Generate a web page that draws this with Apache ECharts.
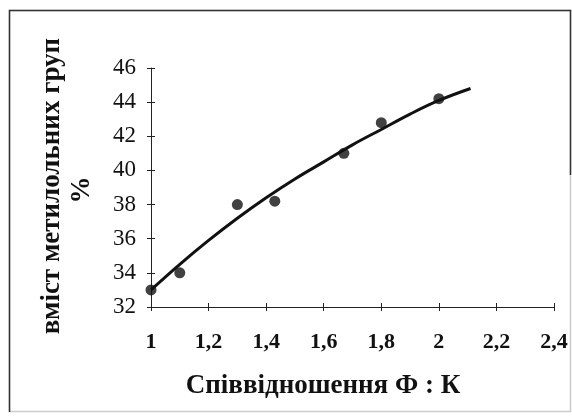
<!DOCTYPE html>
<html><head><meta charset="utf-8">
<script src="https://cdn.jsdelivr.net/npm/echarts@6/dist/echarts.min.js"></script>
<style>html,body{margin:0;padding:0;background:#fff}#c{width:572px;height:416px}</style>
</head><body><div id="c"></div>
<script>
// measured points (ratio Ф:К, content %)
const pointX = [1.0, 1.1, 1.3, 1.43, 1.67, 1.8, 2.0];
const pointY = [33.0, 34.0, 38.0, 38.2, 41.0, 42.8, 44.2];
// trend line
const trendX = [1.0, 1.1, 1.2, 1.3, 1.4, 1.5, 1.6, 1.7, 1.8, 1.9, 2.0, 2.11];
const trendY = [33.0, 34.5, 35.9, 37.2, 38.4, 39.5, 40.5, 41.5, 42.4, 43.3, 44.1, 44.8];
const xTicks = [1, 1.2, 1.4, 1.6, 1.8, 2, 2.2, 2.4];
const yTicks = [32, 34, 36, 38, 40, 42, 44, 46];
const yTitle = 'вміст метилольних груп';
const yTitle2 = '%';
const xTitle = 'Співвідношення Ф : К';

const serif = '"Liberation Serif", "DejaVu Serif", serif';
const chart = echarts.init(document.getElementById('c'), null, {renderer: 'canvas'});
const xBase = {type: 'value', min: 1, max: 2.4, interval: 0.2, gridIndex: 0};
const yBase = {type: 'value', min: 32, max: 46, interval: 2, gridIndex: 0};
chart.setOption({
  animation: false,
  backgroundColor: '#fff',
  grid: {left: 151, top: 68, width: 403, height: 239, containLabel: false},
  xAxis: [
    Object.assign({}, xBase, {
      position: 'bottom',
      axisLine: {show: true, lineStyle: {color: '#222', width: 1}},
      axisTick: {show: true, inside: false, length: 4, lineStyle: {color: '#222'}},
      splitLine: {show: false},
      axisLabel: {
        fontFamily: serif, fontSize: 22, fontWeight: 'bold', color: '#111', margin: 24,
        formatter: v => xTicks.includes(+v.toFixed(1)) ? String(+v.toFixed(1)).replace('.', ',') : ''
      }
    }),
    Object.assign({}, xBase, {
      position: 'bottom',
      axisLine: {show: false},
      axisTick: {show: true, inside: true, length: 4, lineStyle: {color: '#222'}},
      splitLine: {show: false},
      axisLabel: {show: false}
    })
  ],
  yAxis: [
    Object.assign({}, yBase, {
      position: 'left',
      axisLine: {show: true, lineStyle: {color: '#222', width: 1}},
      axisTick: {show: true, inside: false, length: 4, lineStyle: {color: '#222'}},
      splitLine: {show: false},
      axisLabel: {
        fontFamily: serif, fontSize: 23, color: '#111', margin: 15,
        formatter: v => yTicks.includes(v) ? String(v) : ''
      }
    }),
    Object.assign({}, yBase, {
      position: 'left',
      axisLine: {show: false},
      axisTick: {show: true, inside: true, length: 4, lineStyle: {color: '#222'}},
      splitLine: {show: false},
      axisLabel: {show: false}
    })
  ],
  graphic: [
    {type: 'rect', shape: {x: 9.5, y: 10.5, width: 561, height: 401}, style: {fill: 'none', stroke: '#ccc', lineWidth: 1.5}, silent: true},
    {type: 'polyline', shape: {points: [[9.5, 412], [9.5, 10.5], [570.5, 10.5], [570.5, 175]]}, style: {fill: 'none', stroke: '#333', lineWidth: 1.5}, silent: true},
    {type: 'text', x: 52, y: 186, rotation: Math.PI / 2, style: {text: yTitle, font: 'bold 27px ' + serif, fill: '#111', textAlign: 'center', textVerticalAlign: 'middle'}},
    {type: 'text', x: 82, y: 190, rotation: Math.PI / 2, style: {text: yTitle2, font: 'bold 27px ' + serif, fill: '#111', textAlign: 'center', textVerticalAlign: 'middle'}},
    {type: 'text', x: 323, y: 386, style: {text: xTitle, font: 'bold 27px ' + serif, fill: '#111', textAlign: 'center', textVerticalAlign: 'middle'}}
  ],
  series: [
    {
      type: 'line', xAxisIndex: 0, yAxisIndex: 0, smooth: 0.4, showSymbol: false,
      data: trendX.map((x, i) => [x, trendY[i]]),
      lineStyle: {color: '#111', width: 3}, z: 2
    },
    {
      type: 'scatter', xAxisIndex: 0, yAxisIndex: 0, symbol: 'circle', symbolSize: 11,
      data: pointX.map((x, i) => [x, pointY[i]]),
      itemStyle: {color: '#111'}, z: 3
    }
  ]
});
</script></body></html>
